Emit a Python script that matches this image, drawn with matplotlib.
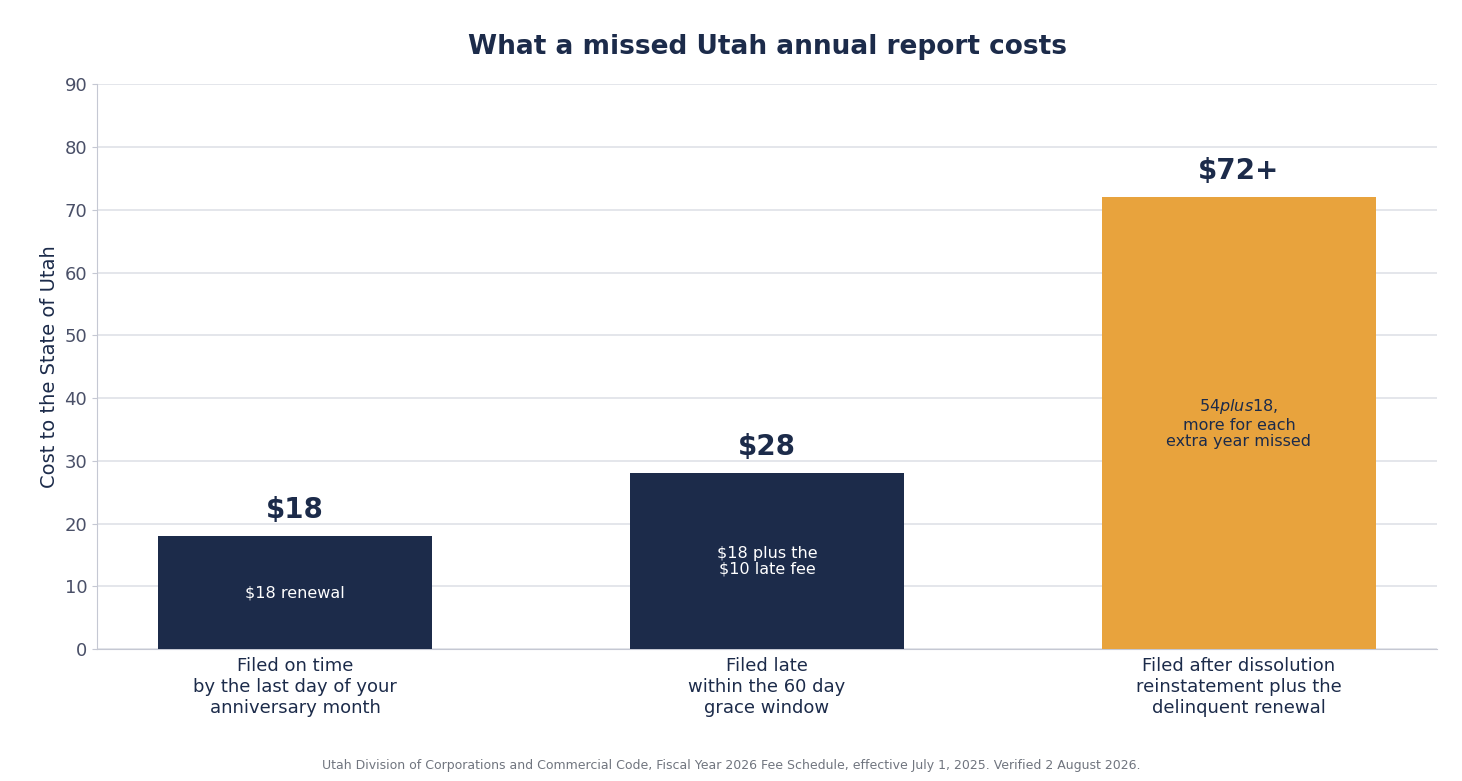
import matplotlib
matplotlib.use("Agg")
import matplotlib.pyplot as plt

categories = ["Filed on time\nby the last day of your\nanniversary month",
              "Filed late\nwithin the 60 day\ngrace window",
              "Filed after dissolution\nreinstatement plus the\ndelinquent renewal"]
values = [18, 28, 72]
value_labels = ["$18", "$28", "$72+"]
inner_labels = ["$18 renewal", "$18 plus the\n$10 late fee", "$54 plus $18,\nmore for each\nextra year missed"]
colors = ["#1c2b4a", "#1c2b4a", "#e8a33d"]
inner_colors = ["white", "white", "#1c2b4a"]

navy = "#1c2b4a"
fig = plt.figure(figsize=(14.62, 7.81), dpi=100)
ax = fig.add_axes([0.0663, 0.169, 0.9167, 0.723])
x = list(range(len(values)))
ax.bar(x, values, width=0.58, color=colors, zorder=3)
ax.set_xlim(-0.42, 2.42)
ax.set_ylim(0, 90)
ax.set_yticks(range(0, 91, 10))
ax.grid(axis="y", color="#dfe1e8", linewidth=1.2, zorder=0)
for s in ["top", "right"]:
    ax.spines[s].set_visible(False)
for s in ["left", "bottom"]:
    ax.spines[s].set_color("#c5c8d3")
ax.tick_params(axis="y", colors="#c5c8d3", labelcolor="#4a5068", labelsize=13)
ax.tick_params(axis="x", length=0, labelcolor=navy, labelsize=13, pad=6)
ax.set_xticks(x)
ax.set_xticklabels(categories)
ax.set_ylabel("Cost to the State of Utah", fontsize=14, color=navy)
ax.set_title("What a missed Utah annual report costs", fontsize=19, fontweight="bold", color=navy, pad=22)
for i, v in enumerate(values):
    ax.text(i, v + 2, value_labels[i], ha="center", va="bottom", fontsize=20, fontweight="bold", color=navy, zorder=4)
    ax.text(i, v / 2 if i < 2 else 36, inner_labels[i], ha="center", va="center", fontsize=11.5 if i else 11.5,
            color=inner_colors[i], zorder=4, linespacing=1.1)
fig.text(0.5, 0.012, "Utah Division of Corporations and Commercial Code, Fiscal Year 2026 Fee Schedule, effective July 1, 2025. Verified 2 August 2026.",
         ha="center", va="bottom", fontsize=9, color="#70757f")
fig.savefig("out.png", dpi=100)
